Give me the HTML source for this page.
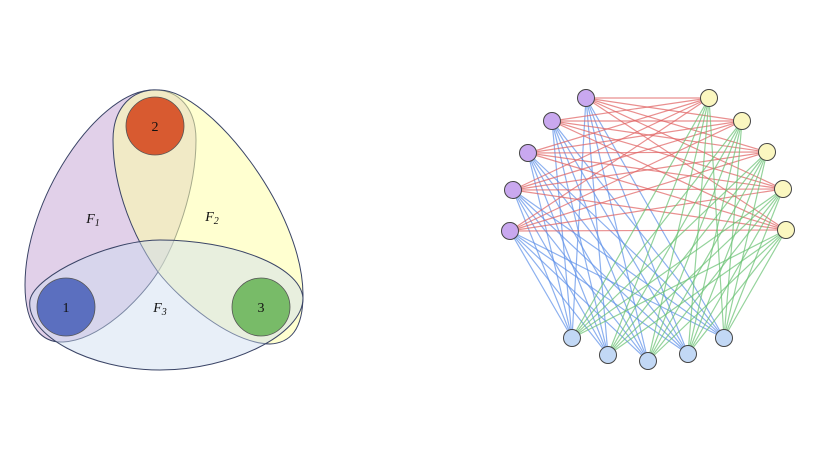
<!DOCTYPE html>
<html><head><meta charset="utf-8"><style>html,body{margin:0;padding:0;background:#fff}svg{display:block}</style></head><body>
<svg width="816" height="460" viewBox="0 0 816 460" xmlns="http://www.w3.org/2000/svg">
<g stroke="#3a4466" stroke-width="1">
<path d="M63,342 C45,343 25,330 25,285 C25,200 95,95 150,90 C180,88 196,110 196,140 C196,190 175,245 158,272 C140,300 100,340 63,342 Z" fill="rgb(200,170,215)" fill-opacity="0.55"/>
<path d="M270,344 C290,343 303,330 303,295 C303,210 210,92 160,90 C130,88 113,110 113,140 C113,190 135,240 158,272 C180,300 230,343 270,344 Z" fill="rgb(255,255,170)" fill-opacity="0.55"/>
<path d="M30,300 C35,275 110,240 160,240 C230,240 300,265 303,298 C303,335 230,370 160,370 C90,370 25,335 30,300 Z" fill="rgb(205,220,240)" fill-opacity="0.45"/>
</g>
<g stroke="#555" stroke-width="0.8">
<circle cx="66" cy="307" r="29" fill="#5b6fbf"/>
<circle cx="155" cy="126" r="29" fill="#d85a30"/>
<circle cx="261" cy="307" r="29" fill="#78bb68"/>
</g>
<g font-family="Liberation Serif, serif" font-size="14" text-anchor="middle" fill="#111">
<text x="66" y="312">1</text><text x="155" y="131">2</text><text x="261" y="312">3</text>
<text x="93" y="223" font-style="italic">F<tspan font-size="10" dy="3">1</tspan></text>
<text x="212" y="221" font-style="italic">F<tspan font-size="10" dy="3">2</tspan></text>
<text x="160" y="312" font-style="italic">F<tspan font-size="10" dy="3">3</tspan></text>
</g>
<g id="edges" stroke-width="1.2" stroke-opacity="0.7"></g>
<g id="nodes" stroke="#444" stroke-width="1"></g>
<script>
var P=[[586,98],[552,121],[528,153],[513,190],[510,231]];
var Y=[[709,98],[742,121],[767,152],[783,189],[786,230]];
var B=[[572,338],[608,355],[648,361],[688,354],[724,338]];
var e=document.getElementById('edges'),n=document.getElementById('nodes'),ns='http://www.w3.org/2000/svg';
function L(a,b,c){var l=document.createElementNS(ns,'line');l.setAttribute('x1',a[0]);l.setAttribute('y1',a[1]);l.setAttribute('x2',b[0]);l.setAttribute('y2',b[1]);l.setAttribute('stroke',c);e.appendChild(l);}
P.forEach(function(p){Y.forEach(function(y){L(p,y,'#e06060');});B.forEach(function(b){L(p,b,'#5b8ee8');});});
Y.forEach(function(y){B.forEach(function(b){L(y,b,'#66c070');});});
function C(a,f){var c=document.createElementNS(ns,'circle');c.setAttribute('cx',a[0]);c.setAttribute('cy',a[1]);c.setAttribute('r',8.5);c.setAttribute('fill',f);n.appendChild(c);}
P.forEach(function(p){C(p,'#c9a8ef');});Y.forEach(function(p){C(p,'#fbf7c0');});B.forEach(function(p){C(p,'#c2d8f5');});
</script>
</svg>
</body></html>
